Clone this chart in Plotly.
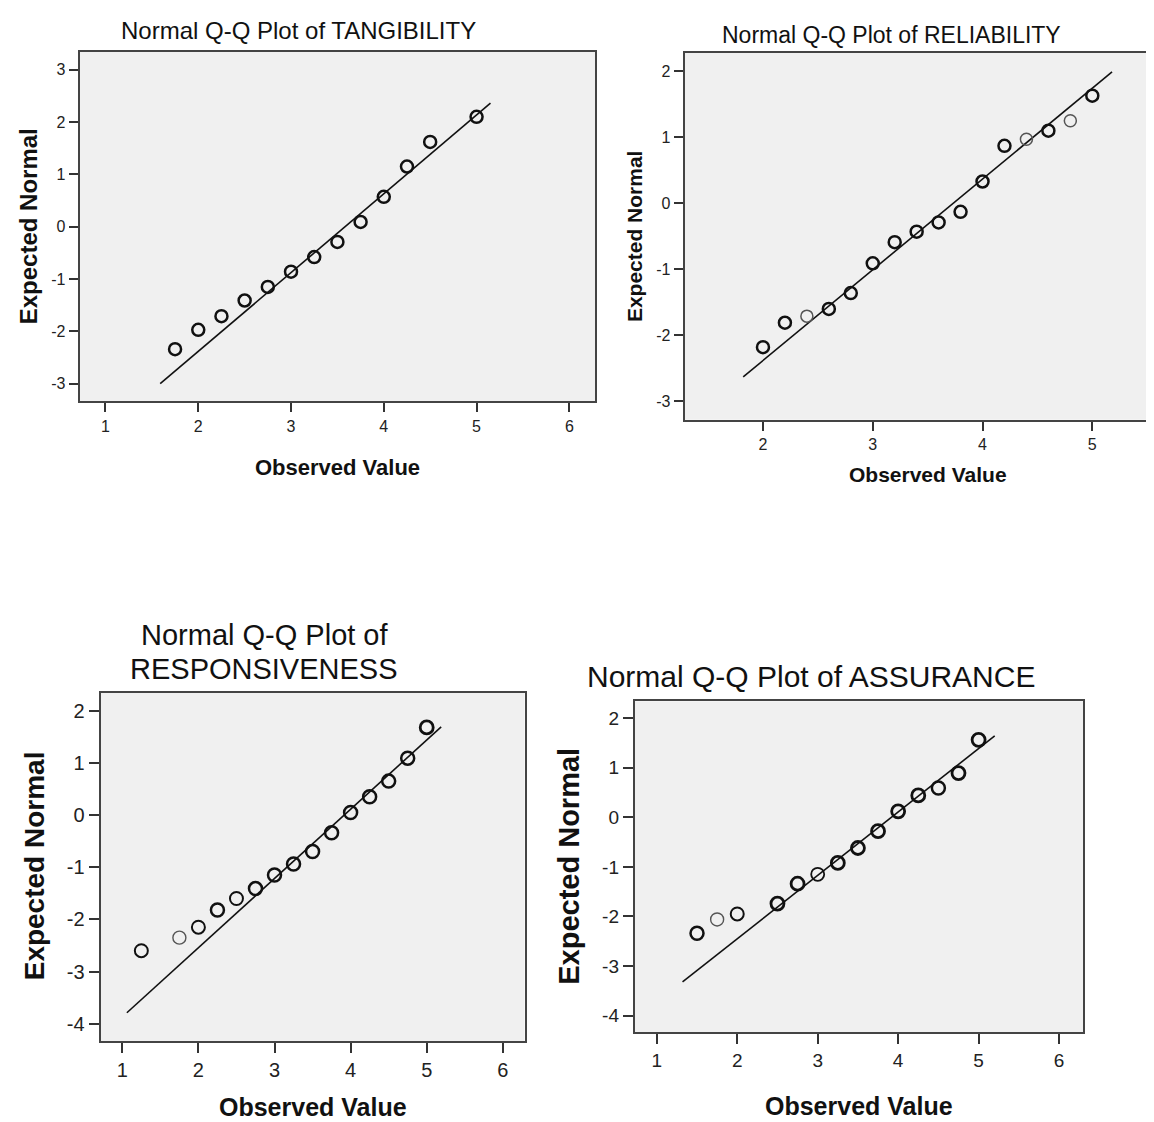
import plotly.graph_objects as go

# ---------------- data ----------------
tang_obs = [1.75, 2.0, 2.25, 2.5, 2.75, 3.0, 3.25, 3.5, 3.75, 4.0, 4.25, 4.5, 5.0]
tang_exp = [-2.34, -1.97, -1.71, -1.41, -1.15, -0.86, -0.58, -0.29, 0.09, 0.57, 1.15, 1.62, 2.10]
tang_line_x = [1.59, 5.15]
tang_line_y = [-3.0, 2.36]

rel_obs = [2.0, 2.2, 2.4, 2.6, 2.8, 3.0, 3.2, 3.4, 3.6, 3.8, 4.0, 4.2, 4.4, 4.6, 4.8, 5.0]
rel_exp = [-2.18, -1.81, -1.71, -1.60, -1.36, -0.91, -0.59, -0.43, -0.29, -0.13, 0.33, 0.87, 0.97, 1.10, 1.25, 1.63]
rel_line_x = [1.82, 5.18]
rel_line_y = [-2.63, 1.99]

resp_obs = [1.25, 1.75, 2.0, 2.25, 2.5, 2.75, 3.0, 3.25, 3.5, 3.75, 4.0, 4.25, 4.5, 4.75, 5.0]
resp_exp = [-2.60, -2.35, -2.15, -1.82, -1.60, -1.41, -1.15, -0.94, -0.70, -0.34, 0.05, 0.35, 0.65, 1.09, 1.68]
resp_line_x = [1.06, 5.19]
resp_line_y = [-3.79, 1.69]

assu_obs = [1.5, 1.75, 2.0, 2.5, 2.75, 3.0, 3.25, 3.5, 3.75, 4.0, 4.25, 4.5, 4.75, 5.0]
assu_exp = [-2.34, -2.06, -1.95, -1.74, -1.34, -1.15, -0.92, -0.62, -0.28, 0.12, 0.44, 0.59, 0.89, 1.56]
assu_line_x = [1.32, 5.20]
assu_line_y = [-3.32, 1.64]

x_ticks_a = [1, 2, 3, 4, 5, 6]
x_ticks_b = [2, 3, 4, 5]
y_ticks_a = [-3, -2, -1, 0, 1, 2, 3]
y_ticks_b = [-3, -2, -1, 0, 1, 2]
y_ticks_c = [-4, -3, -2, -1, 0, 1, 2]

titles = ["Normal Q-Q Plot of TANGIBILITY", "Normal Q-Q Plot of RELIABILITY",
          "Normal Q-Q Plot of", "RESPONSIVENESS", "Normal Q-Q Plot of ASSURANCE"]
x_title = "Observed Value"
y_title = "Expected Normal"

# ---------------- styling ----------------
W, H = 1154, 1122
FONT = "Liberation Sans, Arial, sans-serif"

def px(x):
    return x / W

def py(y):
    return 1 - y / H

def labels(vals):
    return [str(v) for v in vals]  # plain hyphen-minus, as in the reference

# per-point stroke widths (lighter = single, heavier = overlapped)
tang_stroke = [2.5] * len(tang_obs)
rel_stroke = [2.5, 2.5, 1.5, 2.5, 2.5, 2.5, 2.5, 2.5, 2.5, 2.5, 2.5, 2.5, 1.5, 2.5, 1.5, 2.5]
resp_stroke = [2.0, 1.4, 2.0, 2.5, 2.0, 2.5, 2.5, 2.5, 2.5, 2.5, 2.5, 2.5, 2.5, 2.5, 2.8]
assu_stroke = [2.5, 1.4, 2.0, 2.8, 2.8, 1.8, 2.8, 2.8, 2.8, 2.8, 2.8, 2.5, 2.8, 2.8]

def stroke_colors(widths):
    return ["#555555" if w < 1.6 else "#111111" for w in widths]

panels = [
    dict(obs=tang_obs, exp=tang_exp, lx=tang_line_x, ly=tang_line_y, stroke=tang_stroke,
         dom_x=[px(71.7), px(587.3)], dom_y=[py(393.3), py(44)],
         xr=[0.722, 6.28], yr=[-3.336, 3.338], xt=x_ticks_a, yt=y_ticks_a,
         tickfont=16, ticklen=9, msize=12, ymirror=True),
    dict(obs=rel_obs, exp=rel_exp, lx=rel_line_x, ly=rel_line_y, stroke=rel_stroke,
         dom_x=[px(676.7), 1.0], dom_y=[py(411.7), py(45)],
         xr=[1.287, 5.635], yr=[-3.279, 2.277], xt=x_ticks_b, yt=y_ticks_b,
         tickfont=16, ticklen=9, msize=12, ymirror=False),
    dict(obs=resp_obs, exp=resp_exp, lx=resp_line_x, ly=resp_line_y, stroke=resp_stroke,
         dom_x=[px(92.7), px(516.5)], dom_y=[py(1033.3), py(685)],
         xr=[0.716, 6.285], yr=[-4.337, 2.339], xt=x_ticks_a, yt=y_ticks_c,
         tickfont=20, ticklen=10, msize=13, ymirror=True),
    dict(obs=assu_obs, exp=assu_exp, lx=assu_line_x, ly=assu_line_y, stroke=assu_stroke,
         dom_x=[px(626.9), px(1075.2)], dom_y=[py(1024.3), py(693.3)],
         xr=[0.728, 6.30], yr=[-4.335, 2.337], xt=x_ticks_a, yt=y_ticks_c,
         tickfont=19, ticklen=10, msize=13, ymirror=True),
]

fig = go.Figure()
layout = dict(
    width=W, height=H, margin=dict(l=0, r=0, t=0, b=0),
    paper_bgcolor="white", plot_bgcolor="#F0F0F0", showlegend=False,
    font=dict(family=FONT, color="#111111"),
)

for i, p in enumerate(panels, start=1):
    xa = "x" if i == 1 else f"x{i}"
    ya = "y" if i == 1 else f"y{i}"
    fig.add_trace(go.Scatter(
        x=p["lx"], y=p["ly"], mode="lines", xaxis=xa, yaxis=ya,
        line=dict(color="#111111", width=1.6), hoverinfo="skip"))
    fig.add_trace(go.Scatter(
        x=p["obs"], y=p["exp"], mode="markers", xaxis=xa, yaxis=ya,
        marker=dict(symbol="circle-open", size=p["msize"],
                    color=stroke_colors(p["stroke"]),
                    line=dict(width=p["stroke"]))))
    axis_common = dict(showgrid=False, zeroline=False, showline=True,
                       linecolor="#444444", linewidth=2.2,
                       ticks="outside", ticklen=p["ticklen"], tickwidth=1.5,
                       tickcolor="#333333",
                       tickfont=dict(family=FONT, size=p["tickfont"], color="#222222"))
    layout["xaxis" if i == 1 else f"xaxis{i}"] = dict(
        domain=p["dom_x"], range=p["xr"], tickvals=p["xt"], ticktext=labels(p["xt"]),
        mirror=True, anchor=ya, **axis_common)
    layout["yaxis" if i == 1 else f"yaxis{i}"] = dict(
        domain=p["dom_y"], range=p["yr"], tickvals=p["yt"], ticktext=labels(p["yt"]),
        mirror=p["ymirror"], anchor=xa, **axis_common)

fig.update_layout(**layout)

ann = []
# chart titles
ann.append(dict(text=titles[0], x=px(290.4), y=py(22), font=dict(size=24)))
ann.append(dict(text=titles[1], x=px(883.8), y=py(26.7), font=dict(size=23)))
ann.append(dict(text=titles[2], x=px(257.4), y=py(627), font=dict(size=29)))
ann.append(dict(text=titles[3], x=px(255.7), y=py(661), font=dict(size=29)))
ann.append(dict(text=titles[4], x=px(803.3), y=py(668.3), font=dict(size=30)))
# x-axis titles
ann.append(dict(text=f"<b>{x_title}</b>", x=px(330), y=py(460), font=dict(size=22)))
ann.append(dict(text=f"<b>{x_title}</b>", x=px(919.5), y=py(466.7), font=dict(size=21)))
ann.append(dict(text=f"<b>{x_title}</b>", x=px(304.7), y=py(1099), font=dict(size=25)))
ann.append(dict(text=f"<b>{x_title}</b>", x=px(851.3), y=py(1098), font=dict(size=25)))
# y-axis titles
ann.append(dict(text=f"<b>{y_title}</b>", x=px(20.3), y=py(218), textangle=-90, font=dict(size=24)))
ann.append(dict(text=f"<b>{y_title}</b>", x=px(625.8), y=py(228.3), textangle=-90, font=dict(size=21)))
ann.append(dict(text=f"<b>{y_title}</b>", x=px(26), y=py(858.3), textangle=-90, font=dict(size=28)))
ann.append(dict(text=f"<b>{y_title}</b>", x=px(561.5), y=py(858.3), textangle=-90, font=dict(size=29)))

for a in ann:
    a.update(xref="paper", yref="paper", showarrow=False,
             xanchor="center", yanchor="middle")
    a["font"].update(family=FONT, color="#111111")
fig.update_layout(annotations=ann)

fig.write_html("out.html")
